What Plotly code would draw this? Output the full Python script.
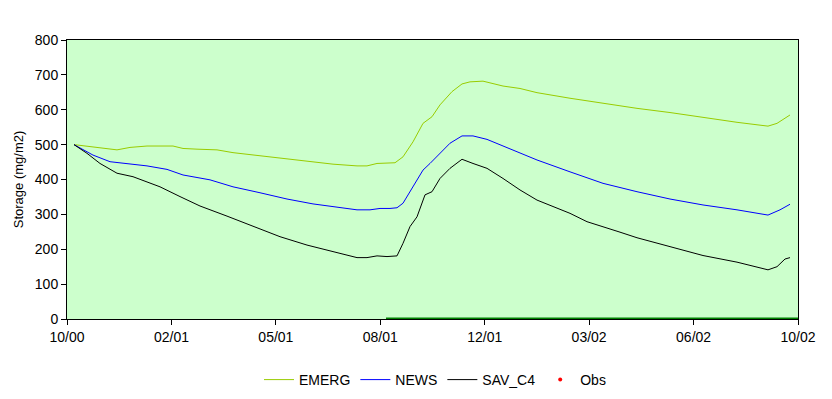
import plotly.graph_objects as go

# x values are days since 10/00
emerg_x = [7, 26, 50, 63, 80, 106, 116, 130, 150, 166, 186, 206, 226, 246, 266, 290, 300, 310, 323,
           328, 336, 346, 356, 365, 373, 385, 395, 403, 416, 436, 453, 470, 503, 536, 570, 603, 636, 670, 701, 710, 723]
emerg_y = [500, 494, 485, 492, 496, 496, 489, 487, 485, 477, 470, 464, 458, 451, 444, 439, 439, 446, 446,
           448, 465, 508, 561, 580, 614, 652, 674, 680, 682, 668, 661, 649, 633, 618, 604, 592, 578, 564, 553, 561, 585]

news_x = [7, 26, 43, 60, 80, 100, 116, 143, 166, 193, 220, 246, 273, 290, 303, 313, 323,
          330, 336, 346, 356, 363, 373, 383, 395, 406, 420, 436, 453, 470, 503, 536, 570, 603, 636, 670, 701, 713, 723]
news_y = [500, 470, 451, 446, 439, 429, 413, 399, 379, 362, 344, 330, 319, 313, 313, 317, 317,
          319, 332, 379, 427, 446, 475, 504, 525, 525, 515, 496, 475, 456, 422, 389, 365, 344, 327, 313, 298, 313, 329]

sav_x = [7, 20, 33, 50, 66, 83, 93, 113, 133, 160, 186, 213, 240, 266, 290, 300, 310, 320,
         330, 336, 343, 350, 358, 365, 373, 383, 395, 406, 420, 436, 453, 470, 486, 503, 520, 536, 553, 570, 603, 636, 670, 701, 710, 718, 723]
sav_y = [500, 475, 446, 418, 408, 389, 379, 351, 324, 295, 265, 236, 212, 193, 176, 176, 181, 179,
         181, 217, 265, 293, 356, 365, 403, 432, 458, 446, 432, 403, 370, 341, 322, 303, 279, 265, 249, 233, 207, 182, 163, 141, 150, 172, 176]

obs_x = [319, 731]
obs_y = [0, 0]

tick_labels = ["10/00", "02/01", "05/01", "08/01", "12/01", "03/02", "06/02", "10/02"]
tick_vals = [i * 731 / 7 for i in range(len(tick_labels))]

fig = go.Figure()
fig.add_trace(go.Scatter(x=emerg_x, y=emerg_y, mode="lines", name="EMERG",
                         line=dict(color="#99CC00", width=1)))
fig.add_trace(go.Scatter(x=news_x, y=news_y, mode="lines", name="NEWS",
                         line=dict(color="#0000FF", width=1)))
fig.add_trace(go.Scatter(x=sav_x, y=sav_y, mode="lines", name="SAV_C4",
                         line=dict(color="#000000", width=1)))
fig.add_trace(go.Scatter(x=obs_x, y=obs_y, mode="lines", showlegend=False, cliponaxis=False,
                         line=dict(color="#008000", width=3)))
fig.add_trace(go.Scatter(x=[None], y=[None], mode="markers", name="Obs",
                         marker=dict(color="#FF0000", size=4)))

fig.update_layout(
    width=824, height=391,
    margin=dict(l=59, r=34, t=32, b=80, autoexpand=False),
    paper_bgcolor="white", plot_bgcolor="#CCFFCC",
    font=dict(family="Liberation Sans, Arial, sans-serif", size=14, color="#000000"),
    showlegend=True,
    legend=dict(orientation="h", x=427 / 824, xanchor="center", xref="container",
                y=1 - 372 / 391, yanchor="middle", yref="container",
                font=dict(size=14), bgcolor="rgba(0,0,0,0)", tracegroupgap=0),
    xaxis=dict(range=[0, 731], tickvals=tick_vals, ticktext=tick_labels, automargin=False,
               showgrid=False, zeroline=False, showline=True, linecolor="black", linewidth=1,
               mirror=True, ticks="outside", ticklen=5, tickcolor="black"),
    yaxis=dict(range=[0, 800], dtick=100, showgrid=False, zeroline=False, automargin=False,
               showline=True, linecolor="black", linewidth=1, mirror=True,
               ticks="outside", ticklen=5, tickcolor="black",
               title=dict(text="Storage (mg/m2)", font=dict(size=13), standoff=8)),
)

fig.write_html("out.html")
